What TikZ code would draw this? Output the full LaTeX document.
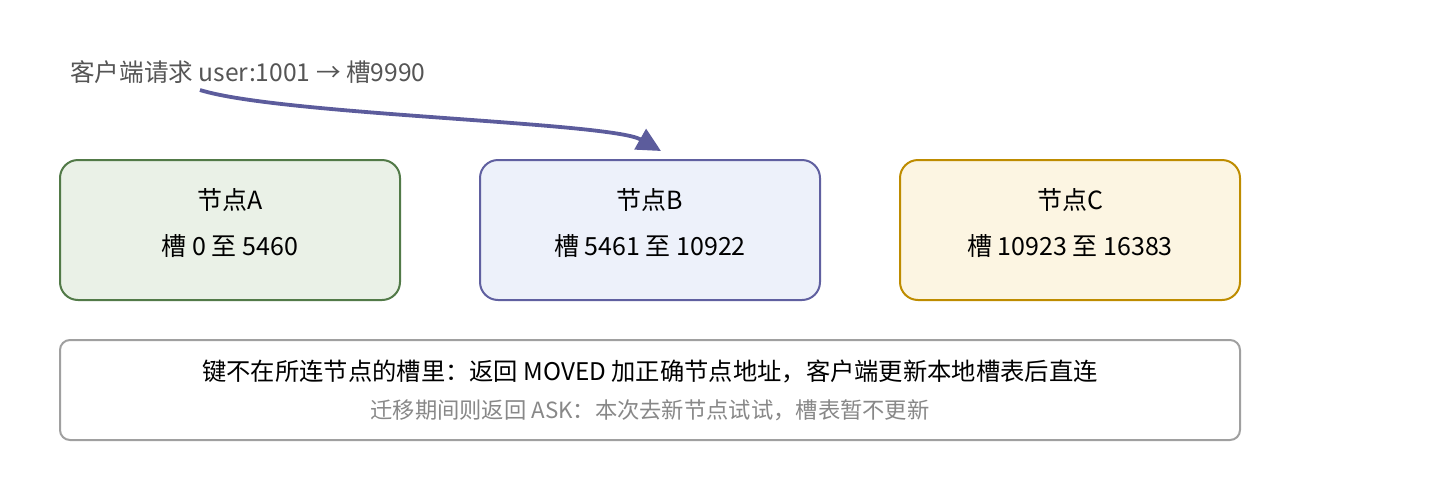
\documentclass[tikz,border=0pt]{standalone}
\usepackage{fontspec}
\setmainfont{Noto Sans CJK SC}
\usepackage{xcolor}
\usetikzlibrary{arrows.meta}

\definecolor{greenline}{HTML}{527A48}
\definecolor{greenfill}{HTML}{EAF1E7}
\definecolor{blueline}{HTML}{6060A0}
\definecolor{bluefill}{HTML}{EDF1FA}
\definecolor{goldline}{HTML}{BE8C00}
\definecolor{goldfill}{HTML}{FCF5E2}
\definecolor{noteline}{HTML}{A0A0A0}
\definecolor{reqcolor}{HTML}{5C5C9C}
\definecolor{labelgray}{HTML}{555555}
\definecolor{subgray}{HTML}{888888}

\begin{document}
\begin{tikzpicture}[x=1pt, y=-1pt, node distance=420pt,
    font=\fontsize{25}{46}\selectfont,
    slotnode/.style={draw, line width=2pt, rounded corners=18pt, align=center,
      minimum width=340pt, minimum height=140pt, text depth=17pt},
    notebox/.style={draw=noteline, line width=2pt, rounded corners=10pt, fill=white,
      align=center, minimum width=1180pt, minimum height=100pt,
      font=\fontsize{24.3}{38}\selectfont},
    flow/.style={-{Triangle[length=24pt,width=23pt]}, draw=reqcolor,
      line width=3.8pt}]
  \useasboundingbox (0,0) rectangle (1440,480);

  \node[slotnode, draw=greenline, fill=greenfill] (A) at (230,230) {节点A\\槽 0 至 5460};
  \node[slotnode, draw=blueline,  fill=bluefill]  (B) [right of=A] {节点B\\槽 5461 至 10922};
  \node[slotnode, draw=goldline,  fill=goldfill]  (C) [right of=B] {节点C\\槽 10923 至 16383};

  \node[notebox, node distance=160pt, below of=B] (moved)
    {键不在所连节点的槽里：返回 MOVED 加正确节点地址，客户端更新本地槽表后直连\\
     {\fontsize{22.3}{38}\selectfont\color{subgray}迁移期间则返回 ASK：本次去新节点试试，槽表暂不更新}};

  \node[anchor=west, inner sep=0pt, text=labelgray, font=\fontsize{24.6}{30}\selectfont]
    (req) at (70,72) {客户端请求 user:1001 → 槽9990};

  \coordinate (from) at (200,90);
  \coordinate (to)   at (661,151);
  \draw[flow] (from) .. controls (280,115) and (610,122) .. (to);
\end{tikzpicture}
\end{document}
